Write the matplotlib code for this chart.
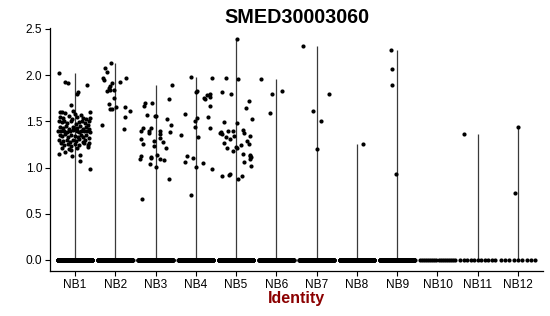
import numpy as np
import matplotlib
matplotlib.use('Agg')
import matplotlib.pyplot as plt

plt.rcParams['font.family'] = ['Liberation Sans', 'DejaVu Sans']

# expression values (non-zero cells) per identity, with horizontal jitter
groups = ['NB1', 'NB2', 'NB3', 'NB4', 'NB5', 'NB6',
          'NB7', 'NB8', 'NB9', 'NB10', 'NB11', 'NB12']

nb1 = [2.02, 1.93, 1.91, 1.89, 1.82, 1.80, 1.68, 1.60, 1.54,
       1.15, 1.17, 1.19, 1.13, 1.14, 1.07, 0.98,
       1.60, 1.60, 1.59, 1.61, 1.58, 1.57,
       1.55, 1.54, 1.56, 1.53, 1.55, 1.54, 1.52, 1.50,
       1.50, 1.49, 1.50, 1.48, 1.50, 1.47, 1.49, 1.50, 1.48, 1.46,
       1.44, 1.43, 1.45, 1.42, 1.44, 1.42, 1.43, 1.45, 1.42, 1.44, 1.42,
       1.40, 1.39, 1.40, 1.38, 1.40, 1.41, 1.40, 1.38, 1.40, 1.39, 1.40, 1.38,
       1.35, 1.34, 1.36, 1.33, 1.35, 1.34, 1.33, 1.35, 1.33, 1.35, 1.32,
       1.30, 1.29, 1.30, 1.28, 1.30, 1.29, 1.31, 1.28, 1.30,
       1.26, 1.24, 1.25, 1.23, 1.25, 1.24, 1.26, 1.24, 1.27,
       1.21, 1.20, 1.21, 1.22]
nb1_x = [-0.40, -0.24, -0.18, 0.30, 0.08, 0.06, -0.09, 0.37, 0.37,
         -0.40, -0.24, -0.10, -0.07, 0.12, 0.12, 0.38,
         -0.38, -0.32, -0.25, -0.05, 0.00, 0.15,
         -0.36, -0.30, -0.14, -0.08, 0.05, 0.20, 0.28, 0.34,
         -0.40, -0.33, -0.27, -0.20, -0.11, 0.02, 0.10, 0.18, 0.24, 0.32,
         -0.38, -0.30, -0.22, -0.16, -0.06, -0.02, 0.06, 0.13, 0.20, 0.27, 0.35,
         -0.41, -0.34, -0.26, -0.19, -0.12, -0.04, 0.04, 0.09, 0.16, 0.23, 0.30, 0.38,
         -0.37, -0.31, -0.24, -0.17, -0.09, 0.00, 0.07, 0.14, 0.21, 0.28, 0.34,
         -0.39, -0.29, -0.21, -0.13, -0.05, 0.03, 0.11, 0.19, 0.26,
         -0.35, -0.27, -0.18, -0.10, 0.01, 0.09, 0.22, 0.33, 0.36,
         -0.31, -0.14, 0.06, 0.33]

nb2 = [2.13, 2.08, 2.03, 1.97, 1.95, 1.97, 1.93, 1.91, 1.88, 1.86, 1.83, 1.84,
       1.84, 1.75, 1.69, 1.63, 1.63, 1.66, 1.65, 1.61, 1.55, 1.46, 1.42]
nb2_x = [-0.10, -0.26, -0.21, -0.30, -0.27, 0.26, 0.12, -0.08, -0.12, -0.16, -0.20, -0.14,
         -0.03, -0.02, -0.16, -0.12, -0.08, 0.02, 0.24, 0.36, 0.25, -0.33, 0.22]

nb3 = [1.89, 1.74, 1.70, 1.67, 1.70, 1.57, 1.56, 1.56, 1.52, 1.46,
       1.43, 1.43, 1.40, 1.40, 1.37, 1.39, 1.36, 1.32, 1.31, 1.29,
       1.38, 1.28, 1.23, 1.25, 1.21, 1.12, 1.11, 1.09, 1.10, 1.04,
       1.01, 1.09, 1.08, 1.14, 0.88, 0.66]
nb3_x = [0.41, 0.33, -0.25, -0.29, -0.08, -0.20, -0.02, 0.00, 0.29, 0.39,
         -0.30, -0.10, -0.35, -0.15, -0.17, 0.10, 0.12, 0.10, -0.35, -0.05,
         0.35, 0.18, -0.04, -0.32, 0.26, -0.35, -0.12, -0.39, -0.12, -0.13,
         0.02, 0.12, 0.22, 0.04, 0.34, -0.33]

nb4 = [1.98, 1.97, 1.83, 1.82, 1.80, 1.79, 1.76, 1.75, 1.74, 1.67,
       1.58, 1.54, 1.50, 1.55, 1.44, 1.43, 1.35, 1.33, 1.13, 1.10,
       1.06, 1.01, 1.05, 0.98, 0.70]
nb4_x = [-0.11, 0.39, 0.03, 0.00, 0.36, 0.29, 0.35, 0.20, 0.24, 0.36,
         -0.26, 0.02, -0.03, 0.30, -0.02, 0.35, -0.38, 0.06, -0.21, -0.08,
         -0.28, 0.00, 0.19, 0.39, -0.12]

nb5 = [2.39, 1.97, 1.96, 1.82, 1.80, 1.72, 1.64, 1.52, 1.49, 1.48,
       1.38, 1.40, 1.40, 1.41, 1.37, 1.34, 1.36, 1.33, 1.31, 1.34,
       1.26, 1.22, 1.24, 1.29, 1.25, 1.21, 1.18, 1.15, 1.14, 1.12,
       1.09, 1.06, 1.02, 0.91, 0.92, 0.88, 0.91, 1.37, 1.21, 1.11, 0.93]
nb5_x = [0.02, -0.25, 0.04, -0.34, -0.12, 0.32, 0.25, 0.40, -0.29, 0.02,
         -0.38, -0.19, -0.08, 0.16, 0.20, 0.35, -0.34, -0.25, -0.14, -0.05,
         -0.31, -0.01, 0.13, 0.28, 0.33, -0.22, -0.07, 0.16, 0.35, 0.35,
         0.35, 0.20, 0.38, -0.35, -0.18, 0.04, 0.15, -0.40, 0.03, 0.36, -0.16]

nb6 = [1.96, 1.80, 1.83, 1.59]
nb6_x = [-0.38, -0.12, 0.13, -0.15]
nb7 = [2.32, 1.61, 1.80, 1.50, 1.20]
nb7_x = [-0.35, -0.10, 0.30, 0.12, 0.00]
nb8 = [1.25]
nb8_x = [0.15]
nb9 = [2.27, 2.07, 1.89, 0.93]
nb9_x = [-0.16, -0.12, -0.13, -0.03]
nb10 = []
nb10_x = []
nb11 = [1.36]
nb11_x = [-0.33]
nb12 = [1.44, 0.72]
nb12_x = [0.00, -0.08]

# number of cells with zero expression in each identity
zero_counts = [400, 350, 350, 350, 350, 300, 300, 300, 300, 18, 11, 9]

values = [nb1, nb2, nb3, nb4, nb5, nb6, nb7, nb8, nb9, nb10, nb11, nb12]
jitter = [nb1_x, nb2_x, nb3_x, nb4_x, nb5_x, nb6_x, nb7_x, nb8_x, nb9_x,
          nb10_x, nb11_x, nb12_x]

fig = plt.figure(figsize=(5.5, 3.16), dpi=100)
ax = fig.add_axes([0.0909, 0.1424, 0.8964, 0.769])

pos = np.arange(1, len(groups) + 1)

# thin violins (almost all mass at zero) -> just a line up to the max
tops = [max(v) if len(v) else 0 for v in values]
ax.vlines(pos, 0, tops, color='#3a3a3a', lw=0.9, zorder=1)

for i, p in enumerate(pos):
    zx = np.linspace(-0.43, 0.43, zero_counts[i])
    ax.scatter(p + zx, np.zeros(zero_counts[i]), s=9, c='black', lw=0, zorder=2)
    if len(values[i]):
        ax.scatter(p + np.array(jitter[i]), values[i], s=9, c='black', lw=0, zorder=2)

ax.set_xlim(0.38, 12.62)
ax.set_ylim(-0.12, 2.51)
ax.set_xticks(pos)
ax.set_xticklabels(groups)
ax.set_yticks([0, 0.5, 1.0, 1.5, 2.0, 2.5])
ax.set_yticklabels(['0.0', '0.5', '1.0', '1.5', '2.0', '2.5'])
ax.tick_params(labelsize=8.6, length=3.5, width=0.8, pad=2, colors='black')

for s in ['top', 'right']:
    ax.spines[s].set_visible(False)
for s in ['left', 'bottom']:
    ax.spines[s].set_linewidth(0.9)

fig.text(0.539, 0.946, 'SMED30003060', ha='center', va='center',
         fontsize=14.2, fontweight='bold')
fig.text(0.539, 0.054, 'Identity', ha='center', va='center',
         fontsize=11.5, fontweight='bold', color='#8b0000')

plt.savefig('out.png', dpi=100)
